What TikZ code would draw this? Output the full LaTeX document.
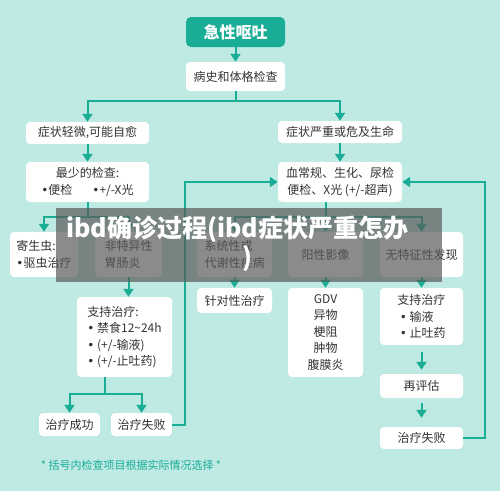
\documentclass[tikz,border=0pt]{standalone}
\usepackage{fontspec}
\newfontfamily\cjk{Noto Sans CJK SC}
\newfontfamily\dejavu{DejaVu Sans}
\newcommand\bul{{\dejavu •}}
\usetikzlibrary{arrows.meta}
\definecolor{bgteal}{HTML}{BEEAE3}
\definecolor{darkteal}{HTML}{19AD96}
\definecolor{txt}{HTML}{333333}
\definecolor{veil}{RGB}{90,90,90}
\tikzset{
  box/.style={fill=white, rounded corners=4pt, inner sep=0pt, text=txt,
    font=\cjk\fontsize{12}{16.5}\selectfont},
  titlebox/.style={fill=darkteal, rounded corners=5pt, inner sep=0pt, text=white,
    font=\cjk\bfseries\fontsize{16}{18}\selectfont},
  ln/.style={draw=darkteal, line width=2pt},
  arr/.style={ln, -{Triangle[length=8pt,width=10pt]}},
}
\begin{document}
\begin{tikzpicture}[x=1pt,y=-1pt]
\fill[bgteal] (0,0) rectangle (500,491);
\useasboundingbox (0,0) rectangle (500,491);

% nodes
\node[titlebox, minimum width=99pt, minimum height=30pt] (title) at (235.5,32) {急性呕吐};
\node[box, minimum width=99pt, minimum height=29pt] (hist) at (235.5,76.5) {病史和体格检查};
\node[box, minimum width=123pt, minimum height=22pt] (mild) at (87.5,133) {症状轻微,可能自愈};
\node[box, minimum width=123pt, minimum height=40pt, align=center] (minexam) at (87.5,182) {最少的检查:\\\bul 便检\hspace{20pt}\bul +/-X光};
\node[box, minimum width=124pt, minimum height=22pt] (severe) at (340,132) {症状严重或危及生命};
\node[box, minimum width=124pt, minimum height=40pt, align=center] (blood) at (340,182) {血常规、生化、尿检\\便检、X光 (+/-超声)};

\node[box, minimum width=68pt, minimum height=45pt, align=left] (para) at (44,254.5) {寄生虫:\\\bul 驱虫治疗};
\node[box, minimum width=67pt, minimum height=45pt, align=left] (nonspec) at (128.5,254.5) {非特异性\\胃肠炎};
\node[box, minimum width=75pt, minimum height=45pt, align=left] (sys) at (234.5,254.5) {系统性或\\代谢性疾病};
\node[box, minimum width=75pt, minimum height=45pt] (pos) at (325.5,254.5) {阳性影像};
\node[box, minimum width=83pt, minimum height=45pt] (nofind) at (421.5,254.5) {无特征性发现};

\node[box, minimum width=95pt, minimum height=80pt, align=left] (sup1) at (124.5,337) {支持治疗:\\\bul\ 禁食12\textasciitilde24h\\\bul\ (+/-输液)\\\bul\ (+/-止吐药)};
\node[box, minimum width=61pt, minimum height=23pt] (succ) at (69.5,424.5) {治疗成功};
\node[box, minimum width=61pt, minimum height=23pt] (fail1) at (141.5,424.5) {治疗失败};

\node[box, minimum width=75pt, minimum height=25pt] (target) at (234.5,300.5) {针对性治疗};
\node[box, minimum width=75pt, minimum height=89pt, align=center] (gdv) at (325.5,332.5) {GDV\\异物\\梗阻\\肿物\\腹膜炎};
\node[box, minimum width=83pt, minimum height=57pt, align=left] (sup2) at (421.5,316.5) {支持治疗\\\ \bul\ 输液\\\ \bul\ 止吐药};
\node[box, minimum width=83pt, minimum height=24pt] (reeval) at (421.5,386) {再评估};
\node[box, minimum width=83pt, minimum height=22pt] (fail2) at (421.5,438) {治疗失败};

\node[text=darkteal, font=\cjk\fontsize{11}{13}\selectfont, inner sep=0pt] (note) at (131,465) {* 括号内检查项目根据实际情况选择 *};

% connectors
\draw[arr] (title) -- (hist);
\coordinate (j1) at (235.5,101);
\draw[ln] (hist.south) -- (j1);
\draw[arr] (j1) -| (mild.north);
\draw[arr] (j1) -| (severe.north);
\draw[arr] (mild) -- (minexam);
\draw[arr] (severe) -- (blood);

\coordinate (j2) at (87.5,217);
\draw[ln] (minexam.south) -- (j2);
\draw[arr] (j2) -| (para.north);
\draw[arr] (j2) -| (nonspec.north);

\coordinate (j3) at (325.5,217);
\draw[ln] (j3 |- blood.south) -- (j3);
\draw[arr] (j3) -| (sys.north);
\draw[arr] (j3) -- (pos.north);
\draw[arr] (j3) -| (nofind.north);

\draw[arr] (nonspec.south) -- (nonspec.south |- sup1.north);
\coordinate (j4) at (105,394);
\draw[ln] (j4 |- sup1.south) -- (j4);
\draw[arr] (j4) -| (succ.north);
\draw[arr] (j4) -| (fail1.north);

\draw[arr] (sys) -- (target);
\draw[arr] (pos) -- (gdv);
\draw[arr] (nofind) -- (sup2);
\draw[arr, shorten <=7pt, shorten >=4pt] (sup2) -- (reeval);
\draw[arr, shorten <=5pt, shorten >=9pt] (reeval) -- (fail2);

\draw[arr] (fail1.east) -- ++(13,0) |- (blood.west);
\draw[arr] (fail2.east) -- ++(22,0) |- (blood.east);

% overlay banner
\fill[veil, opacity=0.7] (56,208) rectangle (442,282);
\node[anchor=west, text=white, inner sep=0pt, font=\cjk\bfseries\fontsize{25}{27}\selectfont] (ban1) at (66,229) {ibd确诊过程(ibd症状严重怎办};
\node[text=white, inner sep=0pt, font=\cjk\bfseries\fontsize{25}{27}\selectfont] (ban2) at (247,259) {)};
\end{tikzpicture}
\end{document}
